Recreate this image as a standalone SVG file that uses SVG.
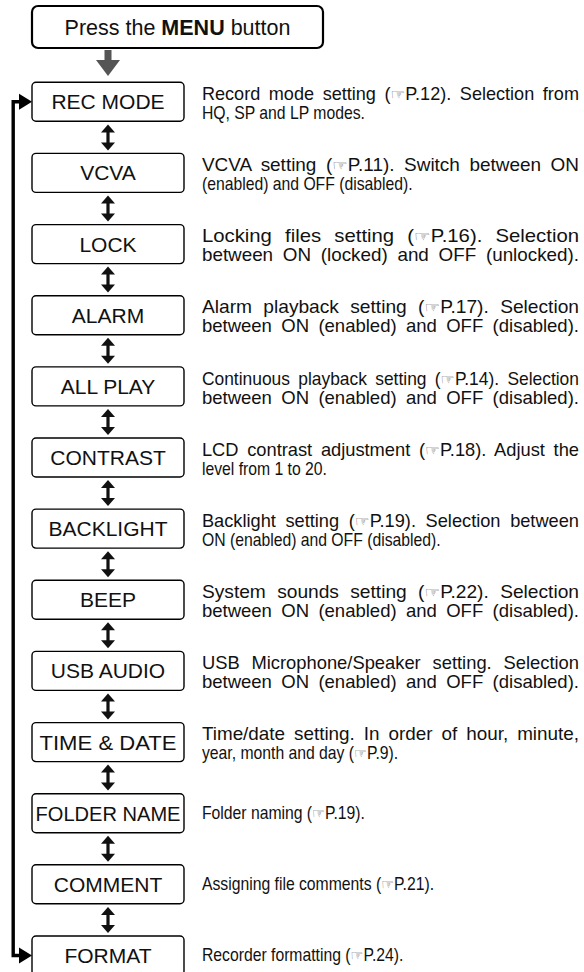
<svg xmlns="http://www.w3.org/2000/svg" xmlns:xlink="http://www.w3.org/1999/xlink" width="584" height="972" viewBox="0 0 584 972">
<defs>
<style>
.box{fill:#fff;stroke:#000;stroke-width:1.4}
.lbl{font-family:"Liberation Sans",Arial,sans-serif;font-size:21px;text-anchor:middle;fill:#111}
.d{font-family:"Liberation Sans",Arial,sans-serif;font-size:17.5px;fill:#111}
.h{font-family:"DejaVu Sans",sans-serif;font-size:16px;fill:#555}
.ar{fill:#111}
</style>
<g id="dbl">
<polygon points="0,-13 -7,-5 7,-5"/>
<polygon points="0,13 -7,5 7,5"/>
<rect x="-1.6" y="-6" width="3.2" height="12"/>
</g>
</defs>
<rect width="584" height="972" fill="#fff"/>

<g id="start">
<rect x="32" y="6" width="291" height="42" rx="6" fill="#fff" stroke="#000" stroke-width="2.2"/>
<text x="177.5" y="34.5" class="lbl" style="font-size:21.5px">Press the <tspan font-weight="bold">MENU</tspan> button</text>
</g>

<g id="connectors">
<g id="start-arrow" fill="#555">
<rect x="104.5" y="50" width="7" height="12"/>
<polygon points="96,60 120,60 108,76"/>
</g>
<g class="ar">
<use xlink:href="#dbl" x="108" y="137.4"/>
<use xlink:href="#dbl" x="108" y="208.5"/>
<use xlink:href="#dbl" x="108" y="279.6"/>
<use xlink:href="#dbl" x="108" y="350.8"/>
<use xlink:href="#dbl" x="108" y="421.9"/>
<use xlink:href="#dbl" x="108" y="493.1"/>
<use xlink:href="#dbl" x="108" y="564.2"/>
<use xlink:href="#dbl" x="108" y="635.3"/>
<use xlink:href="#dbl" x="108" y="706.5"/>
<use xlink:href="#dbl" x="108" y="777.6"/>
<use xlink:href="#dbl" x="108" y="848.8"/>
<use xlink:href="#dbl" x="108" y="919.9"/>
</g>
<g id="loop">
<path d="M20,101.8 H13.2 V955.5 H20" fill="none" stroke="#000" stroke-width="3.4"/>
<polygon points="32,101.8 19,93.8 19,109.8" fill="#000"/>
<polygon points="32,955.5 19,947.5 19,963.5" fill="#000"/>
</g>
</g>

<g id="n-recmode">
<rect class="box" x="32" y="82.3" width="152" height="39" rx="4"/>
<text class="lbl" x="108" y="109.3">REC MODE</text>
</g>
<g id="n-vcva">
<rect class="box" x="32" y="153.4" width="152" height="39" rx="4"/>
<text class="lbl" x="108" y="180.4">VCVA</text>
</g>
<g id="n-lock">
<rect class="box" x="32" y="224.6" width="152" height="39" rx="4"/>
<text class="lbl" x="108" y="251.6">LOCK</text>
</g>
<g id="n-alarm">
<rect class="box" x="32" y="295.7" width="152" height="39" rx="4"/>
<text class="lbl" x="108" y="322.7">ALARM</text>
</g>
<g id="n-allplay">
<rect class="box" x="32" y="366.9" width="152" height="39" rx="4"/>
<text class="lbl" x="108" y="393.9">ALL PLAY</text>
</g>
<g id="n-contrast">
<rect class="box" x="32" y="438" width="152" height="39" rx="4"/>
<text class="lbl" x="108" y="465">CONTRAST</text>
</g>
<g id="n-backlight">
<rect class="box" x="32" y="509.1" width="152" height="39" rx="4"/>
<text class="lbl" x="108" y="536.1">BACKLIGHT</text>
</g>
<g id="n-beep">
<rect class="box" x="32" y="580.3" width="152" height="39" rx="4"/>
<text class="lbl" x="108" y="607.3">BEEP</text>
</g>
<g id="n-usbaudio">
<rect class="box" x="32" y="651.4" width="152" height="39" rx="4"/>
<text class="lbl" x="108" y="678.4">USB AUDIO</text>
</g>
<g id="n-timedate">
<rect class="box" x="32" y="722.6" width="152" height="39" rx="4"/>
<text class="lbl" x="108" y="749.6" textLength="137" lengthAdjust="spacingAndGlyphs">TIME &amp; DATE</text>
</g>
<g id="n-foldername">
<rect class="box" x="32" y="793.7" width="152" height="39" rx="4"/>
<text class="lbl" x="108" y="820.7" textLength="145" lengthAdjust="spacingAndGlyphs">FOLDER NAME</text>
</g>
<g id="n-comment">
<rect class="box" x="32" y="864.8" width="152" height="39" rx="4"/>
<text class="lbl" x="108" y="891.8">COMMENT</text>
</g>
<g id="n-format">
<rect class="box" x="32" y="936" width="152" height="39" rx="4"/>
<text class="lbl" x="108" y="963">FORMAT</text>
</g>

<g id="descriptions" transform="scale(0.9,1)">
<text class="d" x="224.4" y="100" textLength="418.9" lengthAdjust="spacingAndGlyphs" word-spacing="3.5">Record mode setting (<tspan class="h">☞</tspan>P.12). Selection from</text>
<text class="d" x="224.4" y="119">HQ, SP and LP modes.</text>
<text class="d" x="224.4" y="171.1" textLength="418.9" lengthAdjust="spacingAndGlyphs" word-spacing="4">VCVA setting (<tspan class="h">☞</tspan>P.11). Switch between ON</text>
<text class="d" x="224.4" y="190.1">(enabled) and OFF (disabled).</text>
<text class="d" x="224.4" y="242.3" textLength="418.9" lengthAdjust="spacingAndGlyphs" word-spacing="6.5">Locking files setting (<tspan class="h">☞</tspan>P.16). Selection</text>
<text class="d" x="224.4" y="261.3" textLength="418.9" lengthAdjust="spacingAndGlyphs" word-spacing="4.2">between ON (locked) and OFF (unlocked).</text>
<text class="d" x="224.4" y="313.4" textLength="418.9" lengthAdjust="spacingAndGlyphs" word-spacing="5.5">Alarm playback setting (<tspan class="h">☞</tspan>P.17). Selection</text>
<text class="d" x="224.4" y="332.4" textLength="418.9" lengthAdjust="spacingAndGlyphs" word-spacing="4">between ON (enabled) and OFF (disabled).</text>
<text class="d" x="224.4" y="384.6" textLength="418.9" lengthAdjust="spacingAndGlyphs" word-spacing="3.5">Continuous playback setting (<tspan class="h">☞</tspan>P.14). Selection</text>
<text class="d" x="224.4" y="403.6" textLength="418.9" lengthAdjust="spacingAndGlyphs" word-spacing="4">between ON (enabled) and OFF (disabled).</text>
<text class="d" x="224.4" y="455.7" textLength="418.9" lengthAdjust="spacingAndGlyphs" word-spacing="3.5">LCD contrast adjustment (<tspan class="h">☞</tspan>P.18). Adjust the</text>
<text class="d" x="224.4" y="474.7">level from 1 to 20.</text>
<text class="d" x="224.4" y="526.8" textLength="418.9" lengthAdjust="spacingAndGlyphs" word-spacing="4.4">Backlight setting (<tspan class="h">☞</tspan>P.19). Selection between</text>
<text class="d" x="224.4" y="545.8">ON (enabled) and OFF (disabled).</text>
<text class="d" x="224.4" y="598" textLength="418.9" lengthAdjust="spacingAndGlyphs" word-spacing="5.5">System sounds setting (<tspan class="h">☞</tspan>P.22). Selection</text>
<text class="d" x="224.4" y="617" textLength="418.9" lengthAdjust="spacingAndGlyphs" word-spacing="4">between ON (enabled) and OFF (disabled).</text>
<text class="d" x="224.4" y="669.1" textLength="418.9" lengthAdjust="spacingAndGlyphs" word-spacing="6.4">USB Microphone/Speaker setting. Selection</text>
<text class="d" x="224.4" y="688.1" textLength="418.9" lengthAdjust="spacingAndGlyphs" word-spacing="4">between ON (enabled) and OFF (disabled).</text>
<text class="d" x="224.4" y="740.3" textLength="418.9" lengthAdjust="spacingAndGlyphs" word-spacing="3.5">Time/date setting. In order of hour, minute,</text>
<text class="d" x="224.4" y="759.3">year, month and day (<tspan class="h">☞</tspan>P.9).</text>
<text class="d" x="224.4" y="819.2">Folder naming (<tspan class="h">☞</tspan>P.19).</text>
<text class="d" x="224.4" y="890.3">Assigning file comments (<tspan class="h">☞</tspan>P.21).</text>
<text class="d" x="224.4" y="961.5">Recorder formatting (<tspan class="h">☞</tspan>P.24).</text>
</g>
</svg>
